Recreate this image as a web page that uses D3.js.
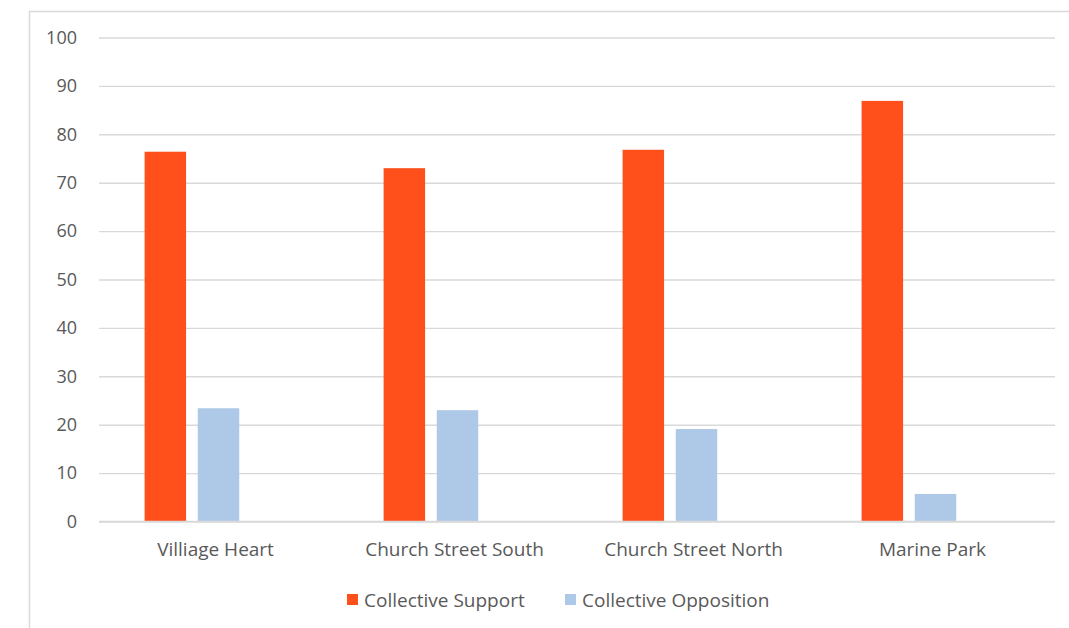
<!DOCTYPE html>
<html>
<head>
<meta charset="utf-8">
<script src="https://cdn.jsdelivr.net/npm/d3@7"></script>
<style>
  html, body { margin: 0; padding: 0; background: #fff; }
  svg { display: block; }
  text { font-family: "Open Sans", "Lato", sans-serif; fill: #595959; }
</style>
</head>
<body>
<svg id="chart" width="1069" height="628"></svg>
<script>
// Survey results by area
const categories = ["Villiage Heart", "Church Street South", "Church Street North", "Marine Park"];
const seriesNames = ["Collective Support", "Collective Opposition"];
const supportValues = [76.4, 73.0, 76.8, 86.9];
const oppositionValues = [23.4, 23.0, 19.1, 5.7];
const yTicks = [0, 10, 20, 30, 40, 50, 60, 70, 80, 90, 100];

const seriesColors = ["#ff4f1a", "#aec8e8"];
const seriesValues = [supportValues, oppositionValues];

const svg = d3.select("#chart");
const W = 1069, H = 628;

// outer chart frame (top and left edges visible)
svg.append("path")
  .attr("d", `M29.5,${H} V11.5 H${W}`)
  .attr("fill", "none")
  .attr("stroke", "#d9d9d9")
  .attr("stroke-width", 1.5);

const plot = { left: 99, right: 1055, top: 37.5, bottom: 521.5 };

const y = d3.scaleLinear().domain([0, 100]).range([plot.bottom, plot.top]);
const x0 = d3.scaleBand().domain(categories).range([plot.left, plot.right]).padding(0);
// three column slots per category; the third slot is left empty
const x1 = d3.scaleBand().domain(d3.range(3))
  .range([45.6, x0.bandwidth() - 45.6]).paddingInner(0.22);

// gridlines
const yAxis = d3.axisLeft(y).tickValues(yTicks).tickSize(-(plot.right - plot.left)).tickPadding(22);
const gy = svg.append("g").attr("transform", `translate(${plot.left},0)`).call(yAxis);
gy.select(".domain").remove();
gy.selectAll(".tick line").attr("stroke", "#d9d9d9").attr("stroke-width", 1.4);
gy.selectAll(".tick text").attr("font-size", 18).style("fill", "#595959")
  .attr("font-family", "'Open Sans', sans-serif");

// bars
const groups = svg.append("g").selectAll("g")
  .data(categories)
  .join("g")
  .attr("transform", d => `translate(${x0(d)},0)`);

groups.selectAll("rect")
  .data((d, i) => seriesValues.map((vals, s) => ({ s, v: vals[i] })))
  .join("rect")
  .attr("x", d => x1(d.s))
  .attr("width", x1.bandwidth())
  .attr("y", d => y(d.v))
  .attr("height", d => y(0) - y(d.v))
  .attr("fill", d => seriesColors[d.s]);

// x axis baseline and labels
const xAxis = d3.axisBottom(x0).tickSize(0).tickPadding(21);
const gx = svg.append("g").attr("transform", `translate(0,${plot.bottom})`).call(xAxis);
gx.select(".domain").attr("stroke", "#d9d9d9").attr("stroke-width", 1.6)
  .attr("d", `M${plot.left},0H${plot.right}`);
gx.selectAll(".tick text").attr("font-size", 19).attr("dx", -3).style("fill", "#595959")
  .attr("font-family", "'Open Sans', sans-serif");

// legend
const legendItems = [
  { name: seriesNames[0], color: seriesColors[0], x: 347 },
  { name: seriesNames[1], color: seriesColors[1], x: 565 }
];
const lg = svg.append("g").selectAll("g").data(legendItems).join("g")
  .attr("transform", d => `translate(${d.x},594)`);
lg.append("rect").attr("width", 11).attr("height", 11).attr("fill", d => d.color);
lg.append("text").attr("x", 17).attr("y", 6).attr("dy", "0.35em")
  .attr("font-size", 19).text(d => d.name);
</script>
</body>
</html>
